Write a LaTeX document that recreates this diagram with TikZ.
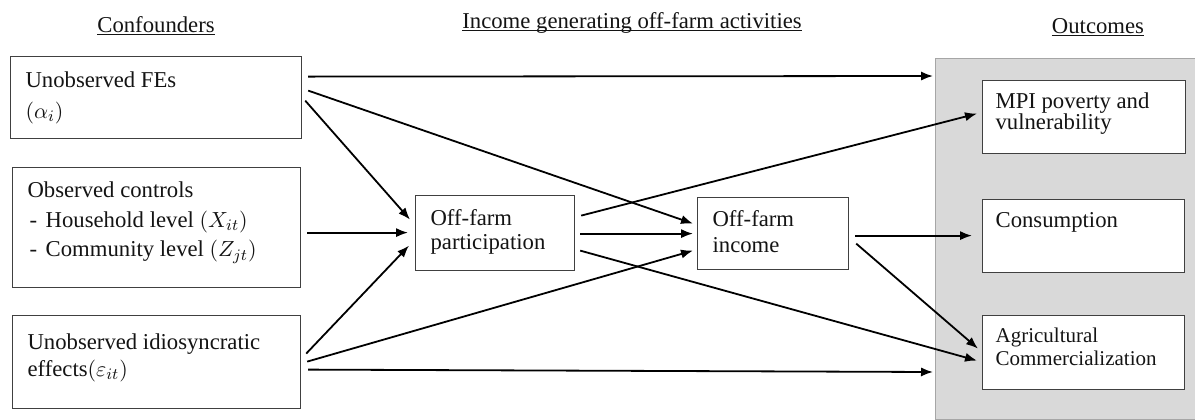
\documentclass[tikz,border=0pt]{standalone}
\usepackage{fontspec}
\setmainfont{Liberation Serif}
\usetikzlibrary{arrows.meta,calc}
\newsavebox\ulbox
\newcommand\myul[1]{\sbox\ulbox{#1}\usebox\ulbox\llap{\rule[-1.4pt]{\wd\ulbox}{0.5pt}}}
% width, height, first baseline, indent, font setting, content
\newcommand\boxtext[6]{\parbox[t][#2][t]{#1}{#5\raggedright\leftskip=#4\relax\leavevmode\rule{0pt}{#3}#6\par}}
\tikzset{
  box/.style={draw=black!75, line width=0.6pt, fill=white, inner sep=0pt, anchor=north west, text=black!92},
  head/.style={inner sep=0pt, text=black!92},
  panel/.style={draw=black!35, line width=0.5pt, fill=black!15, inner sep=0pt, anchor=north west},
  arr/.style={draw=black, line width=0.9pt, -{Latex[length=6pt,width=4.6pt]}}
}
\begin{document}
\begin{tikzpicture}[x=0.5pt, y=-0.5pt, font=\fontsize{11.35pt}{13.6pt}\selectfont]
\useasboundingbox (0,0) rectangle (1195,419);
% headings
\node[head, anchor=base west] (h1) at (97,32) {\myul{Confounders}};
\node[head, anchor=base west] (h2) at (462,28) {\myul{Income generating off-farm activities}};
\node[head, anchor=base] (h3) at (1098,33) {\myul{Outcomes}};
% outcome panel
\node[panel, minimum width=130pt, minimum height=180.5pt] (panel) at (935,58) {};
% confounder boxes
\node[box] (A) at (10,56) {\boxtext{145.5pt}{41pt}{15.5pt}{7.5pt}{\fontsize{11.35pt}{15.5pt}\selectfont}{Unobserved FEs\\$\left(\alpha_{i}\right)$}};
\node[box] (B) at (12,167) {\boxtext{144pt}{60pt}{15pt}{7.5pt}{\fontsize{11.35pt}{14.8pt}\selectfont}{Observed controls\\\hspace*{1pt}-\hspace{4.3pt}Household level $\left(X_{it}\right)$\\\hspace*{1pt}-\hspace{4.3pt}Community level $\left(Z_{jt}\right)$}};
\node[box] (C) at (12,315) {\boxtext{144pt}{46.5pt}{17pt}{7.5pt}{\fontsize{11.35pt}{13.5pt}\selectfont}{Unobserved idiosyncratic\\effects$\left(\varepsilon_{it}\right)$}};
% activity boxes
\node[box] (P) at (415,195) {\boxtext{79.5pt}{37.5pt}{15pt}{7.5pt}{\fontsize{11.35pt}{12pt}\selectfont}{Off-farm\\participation}};
\node[box] (I) at (697,197) {\boxtext{75.5pt}{36pt}{14.5pt}{7.5pt}{\fontsize{11.35pt}{13pt}\selectfont}{Off-farm\\income}};
% outcome boxes
\node[box] (M) at (982,80) {\boxtext{101.5pt}{36.5pt}{14pt}{6.5pt}{\fontsize{11.35pt}{10.5pt}\selectfont}{MPI poverty and\\vulnerability}};
\node[box] (K) at (982,199) {\boxtext{101pt}{36.5pt}{14pt}{6.5pt}{\fontsize{11.35pt}{12pt}\selectfont}{Consumption}};
\node[box] (G) at (982,315) {\boxtext{101pt}{37pt}{13.5pt}{6.5pt}{\fontsize{10.5pt}{11.5pt}\selectfont}{Agricultural\\Commercialization}};
% connectors
\draw[arr] ($(A.east)+(6,-21)$) -- ($(panel.north west)+(-2,18)$);
\draw[arr] ($(A.east)+(6,-7)$) -- ($(I.west)+(-4,-10)$);
\draw[arr] ($(A.east)+(3,3)$) -- ($(P.west)+(-5,-13.5)$);
\draw[arr] ($(B.east)+(6,5)$) -- ($(P.west)+(-7,-0.5)$);
\draw[arr] ($(C.east)+(5,-8.5)$) -- ($(P.west)+(-6,12.5)$);
\draw[arr] ($(C.east)+(6,-0.5)$) -- ($(I.west)+(-4,17)$);
\draw[arr] ($(C.east)+(7,7.5)$) -- ($(panel.south west)+(-2,-48)$);
\draw[arr] ($(P.east)+(6,-17.5)$) -- ($(M.west)+(-5,-3.5)$);
\draw[arr] ($(P.east)+(5,0.5)$) -- ($(I.west)+(-4,0)$);
\draw[arr] ($(P.east)+(5,17.5)$) -- ($(G.west)+(-5,8)$);
\draw[arr] ($(I.east)+(6,2)$) -- ($(K.west)+(-10,-0.5)$);
\draw[arr] ($(I.east)+(7,10)$) -- ($(G.west)+(-4,-4)$);
\end{tikzpicture}
\end{document}
